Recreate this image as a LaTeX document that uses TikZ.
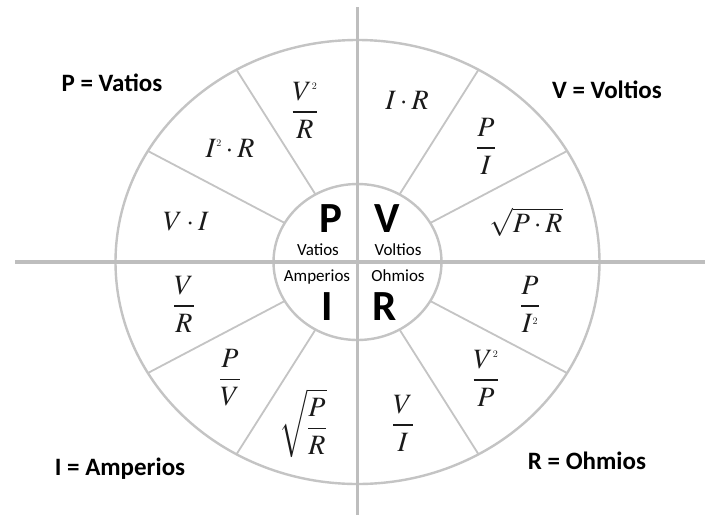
\documentclass[tikz,border=0pt]{standalone}
\usepackage{mathptmx}
\usepackage[no-math]{fontspec}
\newfontfamily\labfont{Carlito}
\definecolor{linegray}{HTML}{C4C4C4}
\definecolor{axisgray}{HTML}{BEBEBE}
\definecolor{txt}{HTML}{1A1A1A}
\newcommand{\tinytwo}{\mbox{\fontsize{10}{10}\selectfont 2}}
\begin{document}
\begin{tikzpicture}[x=1pt,y=-1pt,
  ring/.style={draw=linegray,line width=2.4pt},
  spoke/.style={draw=linegray,line width=1.8pt},
  axis/.style={draw=axisgray,line width=3.4pt},
  lbl/.style={font=\labfont\bfseries\fontsize{25}{30}\selectfont,text=black,inner sep=0pt},
  big/.style={font=\labfont\bfseries\fontsize{43}{46}\selectfont,text=black,inner sep=0pt},
  sm/.style={font=\labfont\fontsize{17}{20}\selectfont,text=black,inner sep=0pt},
  fml/.style={font=\fontsize{28}{30}\selectfont,text=txt,inner sep=0pt}]
\useasboundingbox (0,0) rectangle (710,515);
\fill[white] (0,0) rectangle (710,515);
\coordinate (c) at (357.5,262);
% rings
\draw[ring] (c) ellipse [x radius=242pt, y radius=222pt];
\draw[ring] (c) ellipse [x radius=84pt, y radius=78pt];
% spokes
\foreach \a in {30,60,120,150,210,240,300,330}{
  \coordinate (i\a) at ({357.5+84*cos(\a)},{262-78*sin(\a)});
  \coordinate (o\a) at ({357.5+242*cos(\a)},{262-222*sin(\a)});
  \draw[spoke] (i\a) -- (o\a);
}
% axes
\coordinate (hl) at (15,262);
\coordinate (hr) at (705,262);
\coordinate (vt) at (357.5,7);
\coordinate (vb) at (357.5,515);
\draw[axis] (hl) -- (hr);
\draw[axis] (vt) -- (vb);
% corner labels
\node[lbl,anchor=base] (lp) at (112,91) {P = Vatios};
\node[lbl,anchor=base] (lv) at (607,98) {V = Voltios};
\node[lbl,anchor=base] (li) at (120,475) {I = Amperios};
\node[lbl,anchor=base] (lr) at (587,469) {R = Ohmios};
% centre letters
\node[big,anchor=base] (bp) at (331,232) {P};
\node[big,anchor=base] (bv) at (387,232) {V};
\node[big,anchor=base] (bi) at (327,320) {I};
\node[big,anchor=base] (br) at (385,320) {R};
\node[sm,anchor=base] (sp) at (318,255) {Vatios};
\node[sm,anchor=base] (sv) at (398,255) {Voltios};
\node[sm,anchor=base] (si) at (317,281) {Amperios};
\node[sm,anchor=base] (sr) at (398,281) {Ohmios};
% formulas
\node[fml] (f1) at (305,110) {$\displaystyle\frac{V^{\tinytwo}}{R}$};
\node[fml] (f2) at (407,100) {$I\cdot R$};
\node[fml] (f3) at (486,146) {$\displaystyle\frac{P}{I}$};
\node[fml] (f4) at (526,222) {$\sqrt{P\cdot R}$};
\node[fml] (f5) at (230,148) {$I^{\tinytwo}\cdot R$};
\node[fml] (f6) at (186,222) {$V\cdot I$};
\node[fml] (f7) at (184,304) {$\displaystyle\frac{V}{R}$};
\node[fml] (f8) at (230,378) {$\displaystyle\frac{P}{V}$};
\node[fml] (f9) at (303,423) {$\displaystyle\sqrt{\frac{P}{R}}$};
\node[fml] (f10) at (403,423) {$\displaystyle\frac{V}{I}$};
\node[fml] (f11) at (486,378) {$\displaystyle\frac{V^{\tinytwo}}{P}$};
\node[fml] (f12) at (530,304) {$\displaystyle\frac{P}{I^{\tinytwo}}$};
\end{tikzpicture}
\end{document}
